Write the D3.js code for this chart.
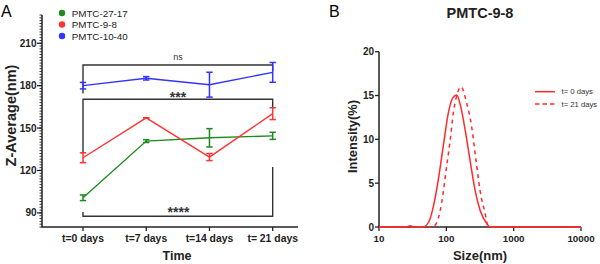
<!DOCTYPE html>
<html>
<head>
<meta charset="utf-8">
<script src="https://d3js.org/d3.v7.min.js"></script>
<style>
    body { margin: 0; background: #fff; }
    svg { display: block; font-family: "Liberation Sans", Arial, sans-serif; }
</style>
</head>
<body>
<svg id="chart" width="600" height="264"></svg>
<script>
// ---- panel A data ----
const days = ["t=0 days", "t=7 days", "t=14 days", "t= 21 days"];
const seriesNames = ["PMTC-27-17", "PMTC-9-8", "PMTC-10-40"];
const seriesColors = ["#1f8a1f", "#ff3333", "#3333ff"];
const zAvg = [
    [100.7, 140.8, 143.1, 144.5],   // PMTC-27-17
    [129.0, 157.2, 129.5, 160.2],   // PMTC-9-8
    [180.0, 185.2, 180.7, 189.4]    // PMTC-10-40
];
const zErr = [
    [2.0, 1.0, 6.5, 2.5],
    [3.5, 0.0, 2.5, 4.2],
    [2.3, 1.2, 8.8, 7.0]
];
const yTicksA = [90, 120, 150, 180, 210];

// ---- panel B data ----
const sizesT0 = [10, 25, 29, 34, 45, 55, 64, 76, 90, 107, 124, 143, 164, 190, 225, 267, 317, 398, 447, 10000];
const intensT0 = [0, 0, 0.15, 0, 0, 0.6, 2.3, 5.4, 9.2, 13.0, 14.7, 15.05, 13.7, 11.1, 7.6, 4.2, 1.9, 0.4, 0, 0];
const sizesT21 = [10, 60, 68, 85, 101, 114, 127, 143, 165, 201, 238, 276, 316, 376, 421, 10000];
const intensT21 = [0, 0, 0.2, 2.7, 6.9, 9.9, 13.0, 15.0, 16.0, 14.1, 11.4, 7.6, 4.2, 1.6, 0, 0];
const xTicksB = [10, 100, 1000, 10000];
const yTicksB = [0, 5, 10, 15, 20];

const svg = d3.select("#chart");

// ================= Panel A =================
const xA = d3.scalePoint().domain(days).range([83, 272.7]);
const yA = d3.scaleLinear().domain([80, 230]).range([227, 15]);

svg.append("text").attr("x", 1).attr("y", 17).attr("font-size", 16).text("A");

// y axis with minor ticks
svg.append("line").attr("x1", 42).attr("x2", 42).attr("y1", yA(230)).attr("y2", yA(80))
    .attr("stroke", "#222").attr("stroke-width", 1.5);
svg.append("g").selectAll("line").data(d3.range(80, 231, 2)).join("line")
    .attr("x1", 39.5).attr("x2", 42).attr("y1", d => yA(d)).attr("y2", d => yA(d))
    .attr("stroke", "#222").attr("stroke-width", 0.9);
svg.append("g").selectAll("line").data(yTicksA).join("line")
    .attr("x1", 37).attr("x2", 42).attr("y1", d => yA(d)).attr("y2", d => yA(d))
    .attr("stroke", "#222").attr("stroke-width", 1.3);
svg.append("g").selectAll("text").data(yTicksA).join("text")
    .attr("x", 36.5).attr("y", d => yA(d) + 3.6).attr("text-anchor", "end")
    .attr("font-size", 10).attr("font-weight", "bold").attr("fill", "#222").text(d => d);

// x axis
svg.append("line").attr("x1", 41.3).attr("x2", 298).attr("y1", 227).attr("y2", 227)
    .attr("stroke", "#222").attr("stroke-width", 1.5);
svg.append("g").selectAll("line").data(days).join("line")
    .attr("x1", d => xA(d)).attr("x2", d => xA(d)).attr("y1", 227).attr("y2", 231)
    .attr("stroke", "#222").attr("stroke-width", 1.3);
svg.append("g").selectAll("text").data(days).join("text")
    .attr("x", d => xA(d)).attr("y", 242).attr("text-anchor", "middle")
    .attr("font-size", 10.4).attr("font-weight", "bold").attr("fill", "#222").text(d => d);

svg.append("text").attr("x", 177).attr("y", 259.5).attr("text-anchor", "middle")
    .attr("font-size", 12.5).attr("font-weight", "bold").attr("fill", "#222").text("Time");
svg.append("text").attr("transform", "translate(15.5,115.5) rotate(-90)").attr("text-anchor", "middle")
    .attr("font-size", 14.5).attr("font-weight", "bold").attr("fill", "#222").text("Z-Average(nm)");

// significance brackets
const brk = svg.append("g").attr("stroke", "#333").attr("stroke-width", 1.4).attr("fill", "none");
brk.append("path").attr("d", `M${xA(days[0])},93.5 V65 H${xA(days[3])} V71`);
brk.append("path").attr("d", `M${xA(days[0])},153.7 V99.3 H${xA(days[3])} V107`);
brk.append("path").attr("d", `M${xA(days[0])},212 V216.3 H${xA(days[3])} V167`);
svg.append("text").attr("x", 178).attr("y", 60.3).attr("text-anchor", "middle")
    .attr("font-size", 9).attr("fill", "#333").text("ns");
svg.append("text").attr("x", 178).attr("y", 102.2).attr("text-anchor", "middle")
    .attr("font-size", 14).attr("font-weight", "bold").attr("fill", "#333").text("***");
svg.append("text").attr("x", 178.5).attr("y", 217.2).attr("text-anchor", "middle")
    .attr("font-size", 14).attr("font-weight", "bold").attr("fill", "#333").text("****");

// series
const lineA = d3.line().x((d, i) => xA(days[i])).y(d => yA(d));
seriesNames.forEach((name, s) => {
    const g = svg.append("g").attr("stroke", seriesColors[s]).attr("fill", "none");
    g.append("path").attr("d", lineA(zAvg[s])).attr("stroke-width", 1.4);
    zAvg[s].forEach((v, i) => {
        const x = xA(days[i]);
        const e = zErr[s][i];
        g.append("line").attr("x1", x).attr("x2", x).attr("y1", yA(v - e)).attr("y2", yA(v + e))
            .attr("stroke-width", 1.5);
        [v - e, v + e].forEach(c => {
            g.append("line").attr("x1", x - 3.2).attr("x2", x + 3.2).attr("y1", yA(c)).attr("y2", yA(c))
                .attr("stroke-width", 1.5);
        });
    });
});

// legend A
const legA = svg.append("g").selectAll("g").data(seriesNames).join("g")
    .attr("transform", (d, i) => `translate(62,${13 + i * 11.5})`);
legA.append("circle").attr("r", 3.2).attr("fill", (d, i) => seriesColors[i]);
legA.append("text").attr("x", 9.7).attr("y", 3.5).attr("font-size", 9.8).attr("fill", "#222").text(d => d);

// ================= Panel B =================
const xB = d3.scaleLog().domain([10, 10000]).range([379, 581]);
const yB = d3.scaleLinear().domain([0, 20]).range([227, 51.7]);

svg.append("text").attr("x", 329).attr("y", 17).attr("font-size", 16).text("B");
svg.append("text").attr("x", 480).attr("y", 18.3).attr("text-anchor", "middle")
    .attr("font-size", 14.5).attr("font-weight", "bold").attr("fill", "#222").text("PMTC-9-8");

const axB = svg.append("g").attr("stroke", "#222");
axB.append("line").attr("x1", 379).attr("x2", 379).attr("y1", yB(20)).attr("y2", yB(0)).attr("stroke-width", 1.5);
axB.append("line").attr("x1", 378.3).attr("x2", 581).attr("y1", yB(0)).attr("y2", yB(0)).attr("stroke-width", 1.5);
axB.selectAll(".yt").data(yTicksB).join("line").attr("class", "yt")
    .attr("x1", 375).attr("x2", 379).attr("y1", d => yB(d)).attr("y2", d => yB(d)).attr("stroke-width", 1.3);
axB.selectAll(".xt").data(xTicksB).join("line").attr("class", "xt")
    .attr("x1", d => xB(d)).attr("x2", d => xB(d)).attr("y1", 227).attr("y2", 231).attr("stroke-width", 1.3);

svg.append("g").selectAll("text").data(yTicksB).join("text")
    .attr("x", 374).attr("y", d => yB(d) + 3.6).attr("text-anchor", "end")
    .attr("font-size", 10).attr("font-weight", "bold").attr("fill", "#222").text(d => d);
svg.append("g").selectAll("text").data(xTicksB).join("text")
    .attr("x", d => xB(d)).attr("y", 242).attr("text-anchor", "middle")
    .attr("font-size", 9.8).attr("font-weight", "bold").attr("fill", "#222").text(d => d);

svg.append("text").attr("x", 480).attr("y", 259.5).attr("text-anchor", "middle")
    .attr("font-size", 13).attr("font-weight", "bold").attr("fill", "#222").text("Size(nm)");
svg.append("text").attr("transform", "translate(356.5,136.5) rotate(-90)").attr("text-anchor", "middle")
    .attr("font-size", 12.9).attr("font-weight", "bold").attr("fill", "#222").text("Intensity(%)");

const lineB = d3.line().x(d => xB(d[0])).y(d => yB(d[1])).curve(d3.curveMonotoneX);
svg.append("path").attr("d", lineB(d3.zip(sizesT0, intensT0)))
    .attr("fill", "none").attr("stroke", "#ff2a2a").attr("stroke-width", 1.5);
svg.append("path").attr("d", lineB(d3.zip(sizesT21, intensT21)))
    .attr("fill", "none").attr("stroke", "#ff2a2a").attr("stroke-width", 1.5)
    .attr("stroke-dasharray", "4,4");

// legend B
const legB = [["t= 0 days", null], ["t= 21 days", "4.5,3"]];
const lg = svg.append("g").selectAll("g").data(legB).join("g")
    .attr("transform", (d, i) => `translate(535,${91.7 + i * 12.3})`);
lg.append("line").attr("x1", 0).attr("x2", 20).attr("stroke", "#ff2a2a").attr("stroke-width", 1.5)
    .attr("stroke-dasharray", d => d[1]);
lg.append("text").attr("x", 26.5).attr("y", 2.7).attr("font-size", 7.7).attr("fill", "#333").text(d => d[0]);
</script>
</body>
</html>
